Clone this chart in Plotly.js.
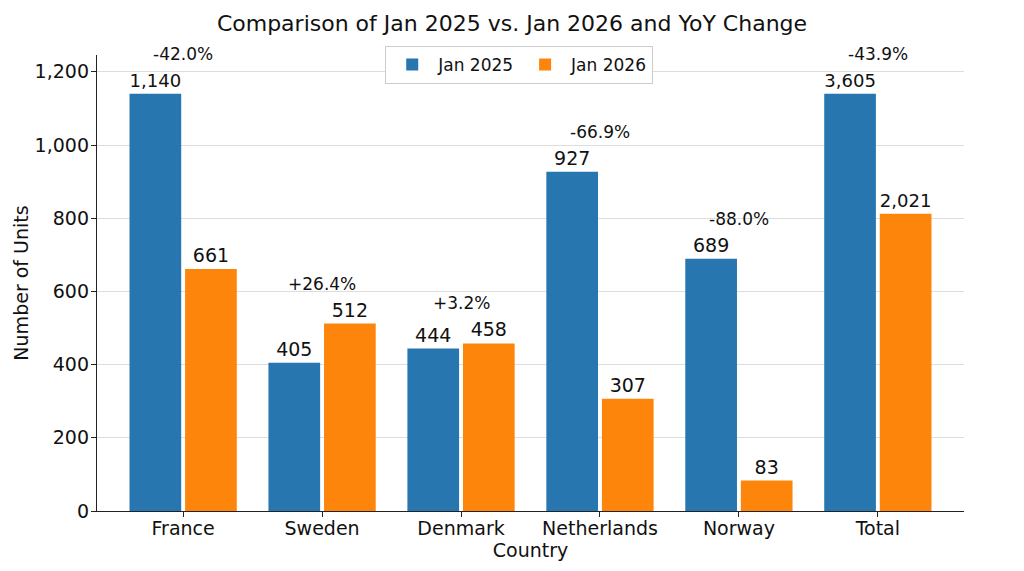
<!DOCTYPE html>
<html>
<head>
<meta charset="utf-8">
<script src="https://cdn.plot.ly/plotly-3.0.1.min.js"></script>
<style>html,body{margin:0;padding:0;background:#fff;}#chart{width:1024px;height:571px;}</style>
</head>
<body>
<div id="chart"></div>
<script>
// Data
var categories = ['France', 'Sweden', 'Denmark', 'Netherlands', 'Norway', 'Total'];
// Bar heights as drawn in the picture (the Total bars are drawn shorter than their labels)
var jan2025 = [1140, 405, 444, 927, 689, 1140];
var jan2026 = [661, 512, 458, 307, 83, 812];
// Value labels printed above the bars
var jan2025Labels = ['1,140', '405', '444', '927', '689', '3,605'];
var jan2026Labels = ['661', '512', '458', '307', '83', '2,021'];
// Year-over-year change labels
var yoyLabels = ['-42.0%', '+26.4%', '+3.2%', '-66.9%', '-88.0%', '-43.9%'];
var yTicks = [0, 200, 400, 600, 800, 1000, 1200];

var FONT = 'DejaVu Sans, Liberation Sans, sans-serif';
var BLUE = '#2776b0';
var ORANGE = '#fe850b';

var traces = [
  {
    type: 'bar', name: 'Jan 2025', x: categories, y: jan2025,
    text: jan2025Labels, texttemplate: '%{text}', textposition: 'outside',
    textfont: {family: FONT, size: 19, color: '#111'},
    marker: {color: BLUE}, cliponaxis: false, hoverinfo: 'x+y'
  },
  {
    type: 'bar', name: 'Jan 2026', x: categories, y: jan2026,
    text: jan2026Labels, texttemplate: '%{text}', textposition: 'outside',
    textfont: {family: FONT, size: 19, color: '#111'},
    marker: {color: ORANGE}, cliponaxis: false, hoverinfo: 'x+y'
  }
];

var annotations = categories.map(function (c, i) {
  return {
    x: c, y: Math.max(jan2025[i], jan2026[i]), xref: 'x', yref: 'y',
    text: yoyLabels[i], showarrow: false, yshift: 40, yanchor: 'middle',
    font: {family: FONT, size: 17, color: '#111'}
  };
});

var layout = {
  width: 1024, height: 571,
  margin: {l: 97, r: 60, t: 55, b: 60},
  paper_bgcolor: '#ffffff', plot_bgcolor: '#ffffff',
  font: {family: FONT, color: '#111'},
  title: {text: 'Comparison of Jan 2025 vs. Jan 2026 and YoY Change',
          font: {family: FONT, size: 22, color: '#111'},
          x: 0.5, xanchor: 'center', y: 0.96, yanchor: 'middle'},
  barmode: 'group', bargap: 0.2, bargroupgap: 0.07,
  xaxis: {
    range: [-0.62, 5.62], showline: true, linecolor: '#222', linewidth: 1.2,
    ticks: 'outside', ticklen: 5, tickcolor: '#222', ticklabelstandoff: -5,
    tickfont: {family: FONT, size: 19, color: '#111'},
    title: {text: 'Country', font: {family: FONT, size: 19, color: '#111'}, standoff: 0},
    showgrid: false, zeroline: false
  },
  yaxis: {
    range: [0, 1246], tickvals: yTicks, tickformat: ',d',
    showline: true, linecolor: '#222', linewidth: 1.2,
    ticks: 'outside', ticklen: 5, tickcolor: '#222', ticklabelstandoff: -2,
    tickfont: {family: FONT, size: 19, color: '#111'},
    showgrid: true, gridcolor: '#dddddd', gridwidth: 1, zeroline: false,
    title: {text: 'Number of Units', font: {family: FONT, size: 19, color: '#111'}, standoff: 1}
  },
  legend: {
    orientation: 'h', x: 0.487, xanchor: 'center', y: 1.02, yanchor: 'top',
    bgcolor: '#ffffff', bordercolor: '#cccccc', borderwidth: 1, itemwidth: 42,
    font: {family: FONT, size: 17, color: '#111'}
  },
  annotations: annotations,
  showlegend: true
};

Plotly.newPlot('chart', traces, layout, {displayModeBar: false, staticPlot: true});
</script>
</body>
</html>
